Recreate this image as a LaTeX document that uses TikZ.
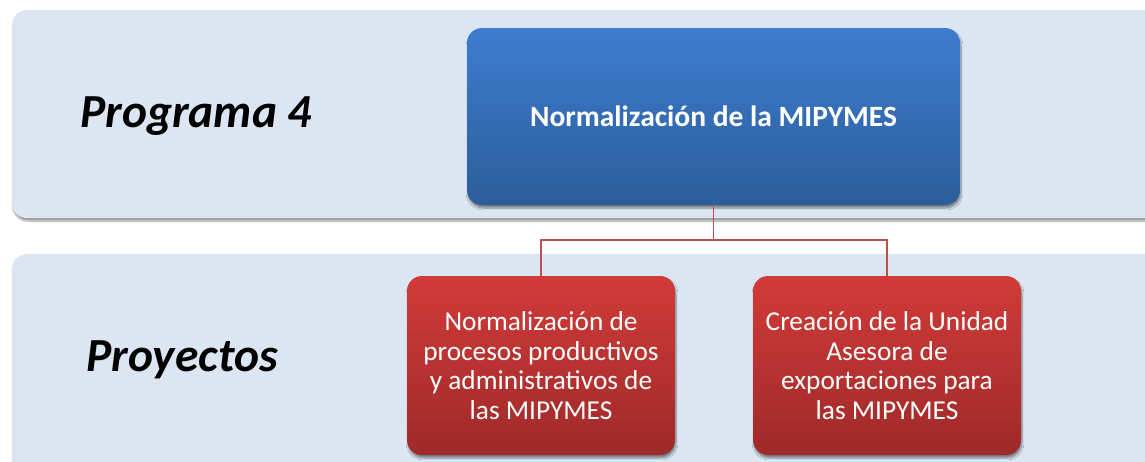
\documentclass[tikz,border=0pt]{standalone}
\usepackage{fontspec}
\setmainfont{Carlito}
\usetikzlibrary{positioning,shadows.blur,calc}
\definecolor{bandblue}{RGB}{220,230,242}
\definecolor{progtop}{RGB}{61,125,206}
\definecolor{progbot}{RGB}{44,93,155}
\definecolor{proytop}{RGB}{209,59,56}
\definecolor{proybot}{RGB}{158,42,41}
\definecolor{connred}{RGB}{192,80,77}

\begin{document}
\begin{tikzpicture}[x=1pt,y=-1pt,
  band/.style={fill=bandblue, rounded corners=15pt,
    blur shadow={shadow xshift=1pt, shadow yshift=-3pt, shadow opacity=40, shadow blur steps=6}},
  boxshadow/.style={blur shadow={shadow xshift=1pt, shadow yshift=-3pt, shadow opacity=45, shadow blur steps=6}},
  progbox/.style={rounded corners=15pt, top color=progtop, bottom color=progbot, boxshadow,
    minimum width=493pt, minimum height=177pt, text=white,
    font=\bfseries\fontsize{29.5}{35}\selectfont},
  proybox/.style={rounded corners=15pt, top color=proytop, bottom color=proybot, boxshadow,
    minimum width=268pt, minimum height=179pt, text=white, align=center,
    font=\fontsize{27.3}{29.5}\selectfont},
  rowlabel/.style={font=\bfseries\itshape\fontsize{47.5}{56}\selectfont},
  conn/.style={connred, line width=1.6pt}]
\useasboundingbox (0,0) rectangle (1145,461);
\clip (0,0) rectangle (1145,461);
% bands
\path[band] (12,10) rectangle (1170,218);
\path[band] (12,254) rectangle (1170,490);
\node[rowlabel] (lprog) at (196,116) {Programa 4};
\node[rowlabel] (lproy) at (182,360) {Proyectos};
% boxes
\node[progbox] (prog) at (713.5,116.5) {Normalización de la MIPYMES};
\node[proybox] (proy1) at (541,365.5) {Normalización de\\procesos productivos\\y administrativos de\\las MIPYMES};
\node[proybox] (proy2) at (887,365.5) {Creación de la Unidad\\Asesora de\\exportaciones para\\las MIPYMES};
% connectors
\coordinate (fork) at (prog.south |- 0,240);
\draw[conn] (prog.south) -- (fork) -| (proy1.north);
\draw[conn] (fork) -| (proy2.north);
\end{tikzpicture}
\end{document}
